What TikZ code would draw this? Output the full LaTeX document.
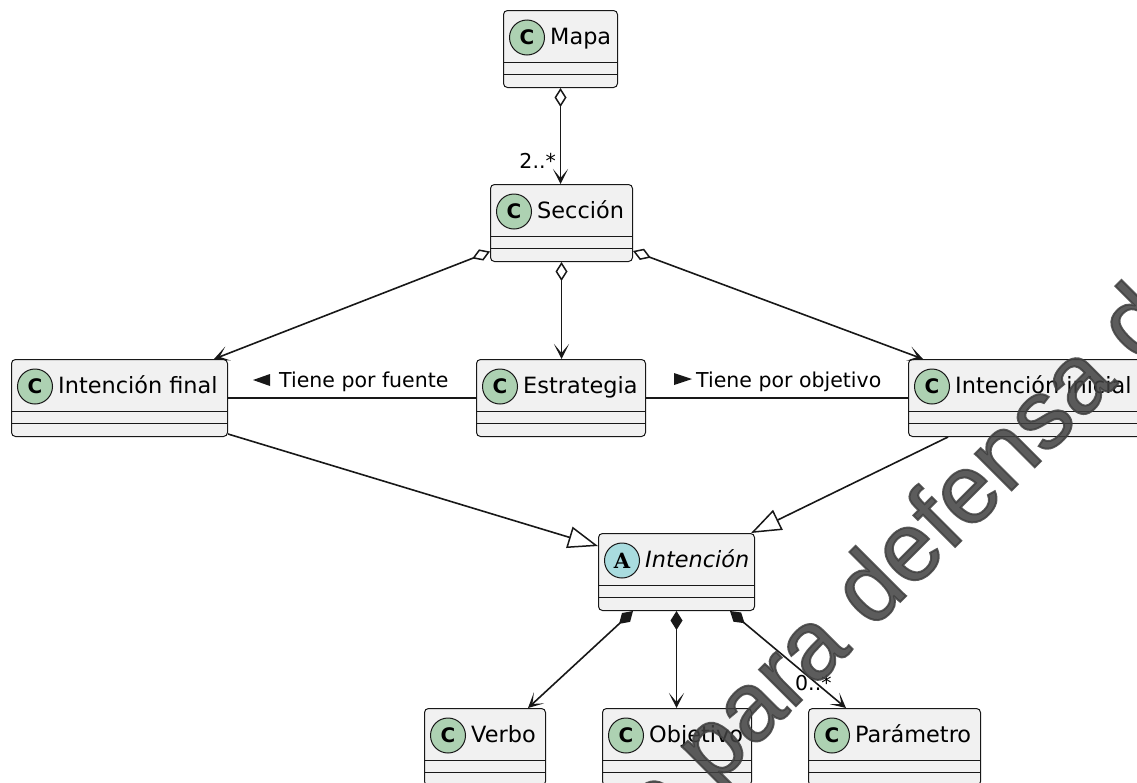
\documentclass[tikz,border=0pt]{standalone}
\usepackage{fontspec}
\setmainfont{DejaVu Sans}
\newfontfamily\wmfont[FakeBold=2]{Liberation Sans}
\newfontfamily\spotserif{DejaVu Serif}
\usetikzlibrary{arrows.meta,calc}
\definecolor{boxfill}{HTML}{F1F1F1}
\definecolor{boxline}{HTML}{181818}
\definecolor{spotC}{HTML}{ADD1B2}
\definecolor{spotA}{HTML}{A9DCDF}
\tikzset{
  cls/.style={draw=boxline, fill=boxfill, line width=1pt, rounded corners=4pt, inner sep=0pt, anchor=north west, minimum height=77pt},
  spot/.style={circle, draw=boxline, line width=1pt, minimum size=35pt, inner sep=0pt, font=\fontsize{20}{20}\selectfont\bfseries},
  clsname/.style={anchor=base west, inner sep=0pt, font=\fontsize{22.4}{26}\selectfont},
  divider/.style={draw=boxline, line width=1pt},
  edge/.style={draw=boxline, line width=1.6pt},
  lbl/.style={font=\fontsize{20.5}{24}\selectfont, inner sep=0pt},
  agg/.style={{Diamond[open,length=19pt,width=12pt,line width=1.5pt]}-{Stealth[length=15pt,width=15pt,inset=9pt]}},
  comp/.style={{Diamond[length=19pt,width=12pt]}-{Stealth[length=15pt,width=15pt,inset=9pt]}},
  inh/.style={-{Triangle[open,length=30pt,width=22pt,line width=1.5pt]}},
}
\newcommand\umlclass[7]{%
  \node[cls, minimum width=#4pt] (#1) at (#2,#3) {};
  \draw[divider] ($(#1.north west)+(0,52)$) -- ($(#1.north east)+(0,52)$);
  \draw[divider] ($(#1.north west)+(0,64)$) -- ($(#1.north east)+(0,64)$);
  \node[spot, fill=#6] (#1-spot) at ($(#1.north west)+(24,27.5)$) {#7};
  \node[clsname] (#1-name) at ($(#1.north west)+(47,34)$) {#5};
}
\begin{document}
\begin{tikzpicture}[x=1pt,y=-1pt]
\fill[white] (0,0) rectangle (1137,782);
\useasboundingbox (0,0) rectangle (1137,782);

\umlclass{map}{503}{10}{114}{Mapa}{spotC}{C}
\umlclass{sec}{490}{184}{142}{Sección}{spotC}{C}
\umlclass{ifin}{11}{359}{216}{Intención final}{spotC}{C}
\umlclass{est}{476}{359}{169}{Estrategia}{spotC}{C}
\umlclass{iini}{908}{359}{234}{Intención inicial}{spotC}{C}
\umlclass{intn}{598}{533}{156}{\itshape Intención}{spotA}{\spotserif\fontsize{21}{21}\selectfont\bfseries A}
\umlclass{verbo}{424}{708}{121}{Verbo}{spotC}{C}
\umlclass{obj}{602}{708}{149}{Objetivo}{spotC}{C}
\umlclass{par}{808}{708}{172}{Parámetro}{spotC}{C}

% Mapa -> Seccion
\draw[edge, agg] (map.south) -- (map.south |- sec.north);
\node[lbl, anchor=base east] (m1) at (556,168) {2..*};

% Seccion -> parts
\draw[edge, agg] ($(sec.north west)+(0,67.5)$) -- ($(ifin.north east)+(-14,0)$);
\draw[edge, agg] (sec.south) -- (sec.south |- est.north);
\draw[edge, agg] ($(sec.north east)+(0,67)$) -- ($(iini.north west)+(15,0)$);

% associations
\draw[edge] ($(ifin.north east)+(0,39)$) -- ($(est.north west)+(0,39)$);
\draw[edge] ($(est.north east)+(0,39)$) -- ($(iini.north west)+(0,39)$);
\fill[boxline] (253,380) -- (270,374) -- (270,386) -- cycle;
\node[lbl, anchor=base west] (lfuente) at (279,387) {Tiene por fuente};
\fill[boxline] (674,373) -- (692,379) -- (674,385) -- cycle;
\node[lbl, anchor=base west] (lobj) at (696,387) {Tiene por objetivo};

% inheritance
\draw[edge, inh] ($(ifin.south east)+(0,-3)$) -- ($(intn.north west)+(0,13)$);
\draw[edge, inh] ($(iini.south west)+(40,0)$) -- ($(intn.north east)+(-4,0)$);

% composition
\draw[edge, comp] ($(intn.south west)+(35,0)$) -- ($(verbo.north west)+(104,0)$);
\draw[edge, comp] (intn.south) -- (intn.south |- obj.north);
\draw[edge, comp] ($(intn.south west)+(132,0)$) -- ($(par.north west)+(38,0)$);
\node[lbl, anchor=base west] (m2) at (795,690) {0..*};

% watermark
\node[rotate=45, anchor=base west, inner sep=0pt, text=black!75, opacity=0.85,
      font=\wmfont\fontsize{98}{98}\selectfont] (wm) at (714,788) {\llap{o }para defensa d};
\end{tikzpicture}
\end{document}
